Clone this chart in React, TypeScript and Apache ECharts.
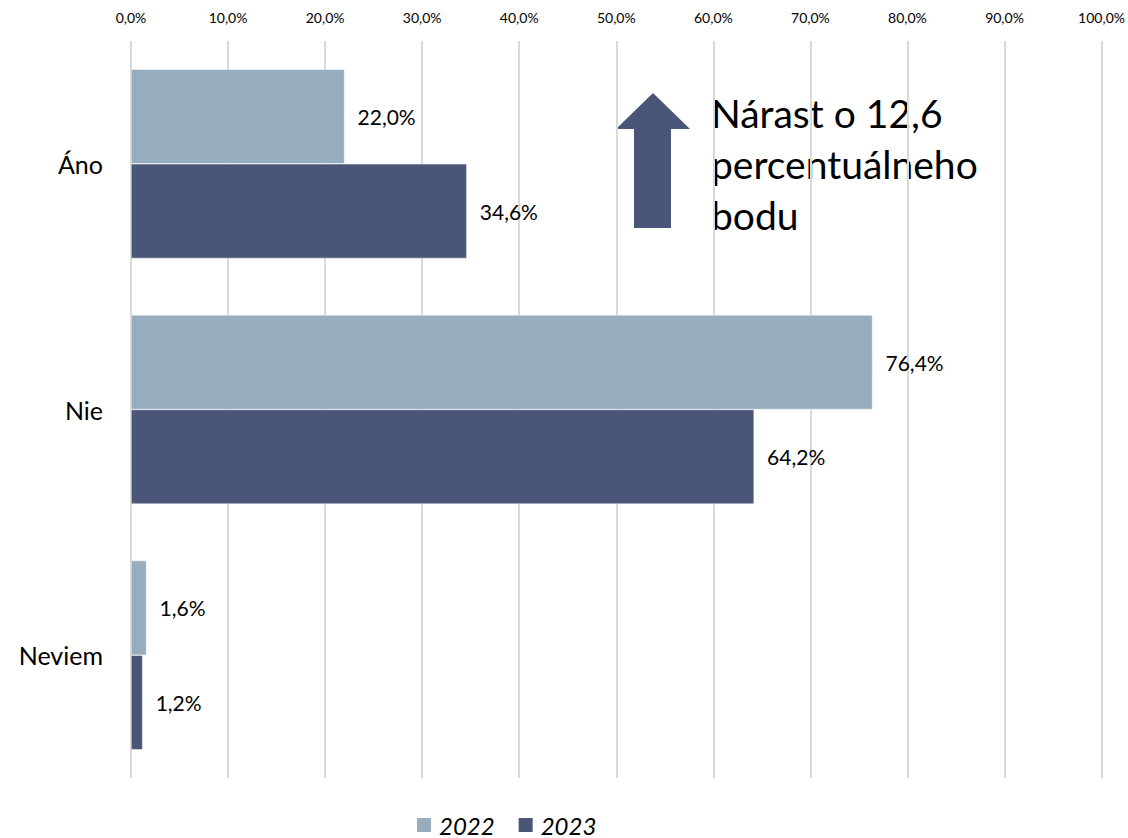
import React, { useEffect, useRef } from "react";
import * as echarts from "echarts";

const categories = ["Áno", "Nie", "Neviem"];
const seriesNames = ["2022", "2023"];
const values2022 = [22.0, 76.4, 1.6];
const values2023 = [34.6, 64.2, 1.2];
const colors = ["#97ADBD", "#4A5677"];
const xTicks = [0, 10, 20, 30, 40, 50, 60, 70, 80, 90, 100];
const annotationLines = ["Nárast o 12,6", "percentuálneho", "bodu"];

const fmt = (v: number) => v.toFixed(1).replace(".", ",") + "%";
const FONT = "Lato, 'Open Sans', sans-serif";

export default function App() {
  const ref = useRef<HTMLDivElement>(null);
  useEffect(() => {
    if (!ref.current) return;
    const chart = echarts.init(ref.current, null, { renderer: "svg" });
    const mk = (name: string, data: number[], color: string) => ({
      name,
      type: "bar",
      data,
      barGap: "0%",
      barCategoryGap: "23%",
      itemStyle: { color, borderColor: "#ffffff", borderWidth: 0.5 },
      label: {
        show: true,
        position: "right",
        distance: 13,
        formatter: (p: any) => fmt(p.value),
        fontSize: 21,
        color: "#000",
        fontFamily: FONT,
      },
    });
    chart.setOption({
      animation: false,
      textStyle: { fontFamily: FONT },
      grid: { left: 131, right: 24, top: 41, bottom: 60, containLabel: false },
      legend: {
        top: 811,
        left: 410,
        padding: [2, 5],
        itemWidth: 16,
        itemHeight: 16,
        itemGap: 22,
        icon: "rect",
        textStyle: { fontSize: 24, fontStyle: "italic", color: "#000", fontFamily: FONT, padding: [0, 0, 0, 2] },
        data: seriesNames,
      },
      xAxis: {
        type: "value",
        position: "top",
        min: xTicks[0],
        max: xTicks[xTicks.length - 1],
        interval: 10,
        axisLine: { show: false },
        axisTick: { show: false },
        splitLine: { show: true, lineStyle: { color: "#D9D9D9", width: 2 } },
        axisLabel: {
          formatter: (v: number) => fmt(v),
          fontSize: 14,
          color: "#000",
          margin: 17,
        },
      },
      yAxis: {
        type: "category",
        inverse: true,
        data: categories,
        axisLine: { show: false },
        axisTick: { show: false },
        axisLabel: { fontSize: 25, color: "#000", margin: 28 },
      },
      series: [
        mk(seriesNames[0], values2022, colors[0]),
        mk(seriesNames[1], values2023, colors[1]),
      ],
      graphic: [
        {
          type: "polygon",
          shape: {
            points: [
              [653, 93],
              [690, 129],
              [671, 129],
              [671, 228],
              [634, 228],
              [634, 129],
              [616, 129],
            ],
          },
          style: { fill: colors[1] },
        },
        ...annotationLines.map((t, i) => ({
          type: "text",
          x: 711,
          y: 113 + i * 51,
          style: {
            text: t,
            fontSize: 39,
            fontFamily: FONT,
            fill: "#000",
            verticalAlign: "middle",
          },
        })),
      ],
    });
    return () => chart.dispose();
  }, []);
  return (
    <div
      ref={ref}
      style={{ position: "absolute", left: 0, top: 0, width: 1128, height: 838 }}
    />
  );
}
